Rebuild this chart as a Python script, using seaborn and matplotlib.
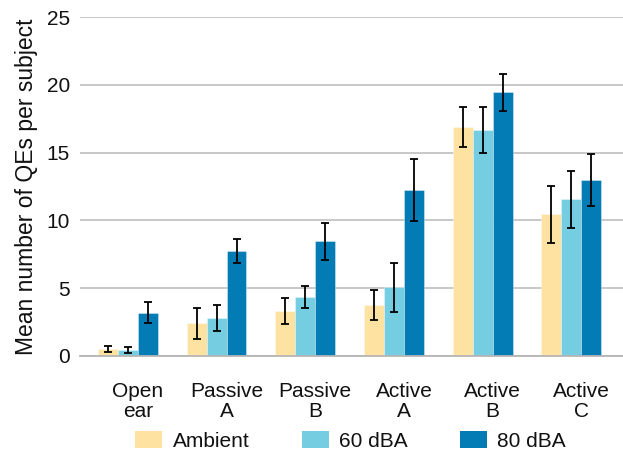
import matplotlib
matplotlib.use("Agg")
import matplotlib.pyplot as plt
from matplotlib.patches import Patch
import numpy as np
import pandas as pd
import seaborn as sns

# Hearing-protection conditions and noise levels
devices = ["Open\near", "Passive\nA", "Passive\nB", "Active\nA", "Active\nB", "Active\nC"]
noise_levels = ["Ambient", "60 dBA", "80 dBA"]

# Mean number of QEs per subject (one list per noise level)
ambient_mean = [0.5, 2.4, 3.3, 3.75, 16.9, 10.45]
dba60_mean = [0.45, 2.8, 4.35, 5.05, 16.65, 11.55]
dba80_mean = [3.2, 7.75, 8.45, 12.25, 19.45, 13.0]

# Error-bar half widths
ambient_err = [0.22, 1.17, 0.98, 1.13, 1.49, 2.1]
dba60_err = [0.22, 0.94, 0.8, 1.82, 1.7, 2.1]
dba80_err = [0.76, 0.91, 1.36, 2.3, 1.35, 1.93]

colors = ["#FDE2A2", "#74CDE1", "#037CB6"]

means = [ambient_mean, dba60_mean, dba80_mean]
errs = [ambient_err, dba60_err, dba80_err]

rows = []
for level, vals in zip(noise_levels, means):
    for dev, v in zip(devices, vals):
        rows.append({"device": dev, "noise": level, "qes": v})
df = pd.DataFrame(rows)

sns.set_theme(style="white")
plt.rcParams["font.family"] = ["Liberation Sans", "DejaVu Sans"]
plt.rcParams["text.color"] = "#111111"

fig = plt.figure(figsize=(6.23, 4.61), dpi=100)
ax = fig.add_axes([0.128, 0.228, 0.872, 0.735])

# A fourth, empty slot keeps the bar groups left of each tick
hue_order = noise_levels + [" "]
palette = colors + ["#FFFFFF"]
sns.barplot(data=df, x="device", y="qes", hue="noise", order=devices,
            hue_order=hue_order, palette=palette, saturation=1, width=0.9,
            dodge=True, errorbar=None, legend=False, ax=ax,
            edgecolor="#FFFFFF80", linewidth=0.5)

for container, err in zip(ax.containers, errs):
    xs = [b.get_x() + b.get_width() / 2 for b in container]
    ys = [b.get_height() for b in container]
    ax.errorbar(xs, ys, yerr=err, fmt="none", ecolor="black",
                elinewidth=1.3, capsize=3, capthick=1.3, zorder=5)

ax.set_ylim(0, 25)
ax.set_yticks([0, 5, 10, 15, 20, 25])
ax.set_xlim(-0.655, 5.47)
ax.yaxis.grid(True, color="#C4C4C4", linewidth=1.3)
ax.set_axisbelow(True)
for side in ["left", "right", "top"]:
    ax.spines[side].set_visible(False)
ax.spines["bottom"].set_color("#B5B5B5")
ax.spines["bottom"].set_linewidth(1.3)
ax.tick_params(axis="y", length=0, pad=7, labelsize=15, labelcolor="#111111")
ax.tick_params(axis="x", length=10, width=1.3, color="#C4C4C4", pad=9,
               labelsize=15, labelcolor="#111111")
for lab in ax.get_xticklabels():
    lab.set_linespacing(1.05)
ax.set_xlabel("")
ax.set_ylabel("Mean number of QEs per subject", fontsize=16.5, labelpad=6,
              color="#111111")

handles = [Patch(facecolor=c, edgecolor="none") for c in colors]
fig.legend(handles, noise_levels, loc="center", bbox_to_anchor=(0.563, 0.043),
           ncol=3, frameon=False, fontsize=15, handlelength=1.3,
           handleheight=0.85, handletextpad=0.5, columnspacing=2.5)

fig.savefig("out.png", dpi=100)
